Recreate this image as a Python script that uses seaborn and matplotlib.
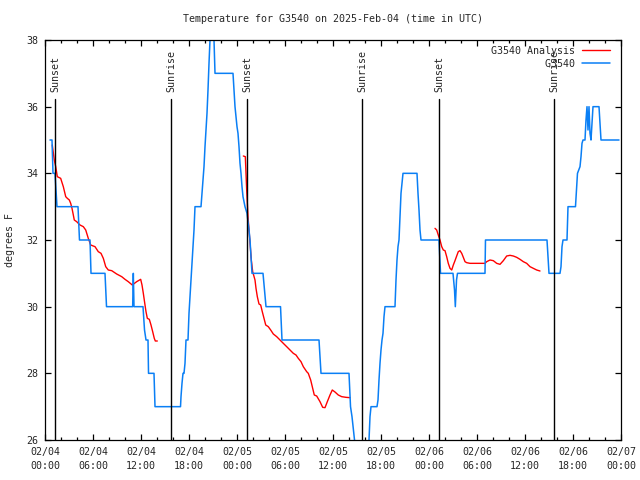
import pandas as pd
import seaborn as sns
import matplotlib.pyplot as plt
from matplotlib.lines import Line2D

START = pd.Timestamp('2025-02-04 00:00')

# G3540 observations (hours after start, deg F)
obs_hours = [0.625, 0.875, 1.0, 1.25, 1.375, 1.5, 4.125, 4.31, 5.625, 5.75, 7.5, 7.69,
             10.96, 11.04, 11.125, 12.25, 12.44, 12.625, 12.875, 12.94, 13.625, 13.75,
             16.94, 17.0, 17.125, 17.25, 17.375, 17.5, 17.625, 17.875, 18.0, 18.125,
             18.25, 18.375, 18.5, 18.625, 18.75, 19.5, 19.625, 19.75, 19.875, 20.0,
             20.125, 20.25, 20.375, 20.5, 20.625, 20.875, 21.125, 21.25, 23.5, 23.625,
             23.75, 23.875, 24.0, 24.125, 24.25, 24.375, 24.5, 24.625, 24.75, 25.0,
             25.25, 25.5, 25.625, 25.875, 27.25, 27.625, 29.44, 29.625, 34.25, 34.5,
             38.0, 38.19, 38.375, 38.69, 39.625, 40.5, 40.625, 40.75, 41.5, 41.625,
             41.75, 41.875, 42.0, 42.125, 42.25, 42.375, 42.5, 43.75, 43.875, 44.0,
             44.125, 44.25, 44.375, 44.5, 44.625, 44.75, 46.5, 46.625, 46.75, 46.875,
             47.0, 49.25, 49.44, 51.0, 51.19, 51.29, 51.44, 51.56, 55.0, 55.06, 62.75,
             63.0, 64.375, 64.5, 64.625, 64.75, 65.25, 65.375, 66.31, 66.44, 66.56,
             66.875, 67.0, 67.125, 67.25, 67.5, 67.625, 67.75, 67.875, 68.0, 68.125,
             68.25, 68.375, 68.5, 69.25, 69.5, 71.75]
obs_temps = [35, 35, 34, 34, 33.5, 33, 33, 32, 32, 31, 31, 30,
             30, 31, 30, 30, 29.3, 29, 29, 28, 28, 27,
             27, 27.3, 27.7, 28, 28, 28.3, 29, 29, 29.8, 30.3,
             30.8, 31.3, 31.8, 32.3, 33, 33, 33.4, 33.8, 34.2, 34.8,
             35.3, 35.8, 36.5, 37.3, 38, 38.8, 38, 37, 37, 36.5,
             36, 35.7, 35.4, 35.2, 34.8, 34.3, 34, 33.6, 33.3, 33,
             32.8, 32.3, 32, 31, 31, 30, 30, 29, 29, 28,
             28, 27, 26.7, 26, 25.3, 26, 26.7, 27, 27, 27.2,
             27.8, 28.3, 28.7, 29, 29.2, 29.7, 30, 30, 30.8, 31.4,
             31.8, 32, 32.7, 33.4, 33.7, 34, 34, 33.4, 32.9, 32.3,
             32, 32, 31, 31, 30.5, 30, 30.8, 31, 31, 32, 32,
             31, 31, 31.2, 31.8, 32, 32, 33, 33, 33.5, 34,
             34.2, 34.5, 34.9, 35, 35, 35.6, 36, 35.3, 36, 35.2,
             35, 35.5, 36, 36, 35, 35]

# G3540 Analysis, three separate runs
ana1_hours = [0.91, 1.16, 1.34, 1.54, 1.96, 2.09, 2.29, 2.59, 2.79, 3.04, 3.21, 3.375,
              3.54, 3.66, 3.96, 4.375, 4.79, 5.09, 5.41, 5.71, 6.25, 6.66, 7.0, 7.29,
              7.59, 7.91, 8.34, 8.96, 9.59, 10.0, 10.41, 10.91, 11.46, 11.96, 12.125,
              12.29, 12.5, 12.625, 12.79, 13.04, 13.25, 13.46, 13.66, 13.79, 14.04]
ana1_temps = [34.85, 34.4, 34.2, 33.9, 33.85, 33.75, 33.6, 33.3, 33.25, 33.2, 33.1, 32.95,
              32.75, 32.6, 32.55, 32.45, 32.4, 32.3, 32.05, 31.85, 31.8, 31.65, 31.6, 31.45,
              31.2, 31.1, 31.08, 30.98, 30.9, 30.82, 30.75, 30.65, 30.75, 30.82, 30.65,
              30.4, 30.05, 29.85, 29.65, 29.62, 29.45, 29.25, 29.05, 28.97, 28.97]
ana2_hours = [24.79, 25.04, 25.21, 25.375, 25.79, 25.96, 26.25, 26.375, 26.54, 26.75, 26.96,
              27.16, 27.375, 27.59, 27.91, 28.21, 28.54, 28.96, 29.375, 29.79, 30.21,
              30.625, 31.04, 31.375, 31.66, 32.0, 32.29, 32.71, 32.91, 33.21, 33.46,
              33.66, 33.96, 34.375, 34.71, 35.0, 35.29, 35.625, 35.91, 36.25, 36.66,
              37.09, 37.625, 38.125]
ana2_temps = [34.52, 34.5, 33.5, 32.7, 31.4, 31.05, 30.8, 30.55, 30.3, 30.08, 30.05,
              29.85, 29.65, 29.45, 29.4, 29.3, 29.18, 29.1, 29.0, 28.9, 28.8,
              28.7, 28.6, 28.55, 28.45, 28.35, 28.2, 28.05, 28.0, 27.8, 27.55,
              27.35, 27.32, 27.15, 26.98, 26.97, 27.15, 27.35, 27.5, 27.44, 27.35,
              27.3, 27.28, 27.27]
ana3_hours = [48.75, 48.96, 49.16, 49.375, 49.59, 49.79, 50.0, 50.21, 50.41, 50.625, 50.84,
              51.04, 51.25, 51.46, 51.66, 51.875, 52.09, 52.29, 52.5, 52.71, 53.125, 55.0,
              55.21, 55.625, 56.04, 56.46, 56.875, 57.29, 57.71, 58.125, 58.54, 58.96,
              59.375, 59.79, 60.21, 60.625, 61.04, 61.46, 61.875]
ana3_temps = [32.35, 32.3, 32.15, 32.0, 31.8, 31.7, 31.68, 31.5, 31.3, 31.15, 31.1,
              31.25, 31.38, 31.52, 31.65, 31.68, 31.6, 31.48, 31.35, 31.32, 31.3, 31.3,
              31.35, 31.4, 31.38, 31.3, 31.27, 31.38, 31.52, 31.54, 31.52, 31.48,
              31.42, 31.35, 31.3, 31.2, 31.15, 31.1, 31.07]

# sunrise / sunset (hours after start)
sun_hours = [1.25, 15.75, 25.25, 39.66, 49.31, 63.66]
sun_labels = ['Sunset', 'Sunrise', 'Sunset', 'Sunrise', 'Sunset', 'Sunrise']

tick_times = pd.date_range(START, periods=13, freq='6h')
tick_labels = [t.strftime('%m/%d\n%H:%M') for t in tick_times]
y_ticks = [26, 28, 30, 32, 34, 36, 38]

BLUE = '#0a7ff5'
RED = '#ff0000'


def to_time(hours):
    return START + pd.to_timedelta(hours, unit='h')


obs = pd.DataFrame({'time': to_time(obs_hours), 'temp': obs_temps})
ana = pd.concat([
    pd.DataFrame({'time': to_time(h), 'temp': t, 'run': i})
    for i, (h, t) in enumerate([(ana1_hours, ana1_temps),
                                (ana2_hours, ana2_temps),
                                (ana3_hours, ana3_temps)])
])

sns.set_style('ticks')
plt.rcParams['font.family'] = ['DejaVu Sans Mono', 'DejaVu Sans']
plt.rcParams['font.size'] = 7.2

fig = plt.figure(figsize=(6.4, 4.8), dpi=100)
ax = fig.add_axes([45 / 640, 40 / 480, 576 / 640, 400 / 480])

sns.lineplot(data=ana, x='time', y='temp', units='run', estimator=None, sort=False,
             color=RED, linewidth=1.0, ax=ax)
sns.lineplot(data=obs, x='time', y='temp', estimator=None, sort=False,
             color=BLUE, linewidth=1.1, ax=ax)

for h, lab in zip(sun_hours, sun_labels):
    t = to_time(h)
    ax.axvline(t, ymin=0, ymax=0.8525, color='black', linewidth=1.0)
    ax.text(t, 0.87, lab, transform=ax.get_xaxis_transform(), rotation=90,
            ha='center', va='bottom', fontsize=7.2)

ax.set_xlim(tick_times[0], tick_times[-1])
ax.set_ylim(26, 38)
ax.set_xticks(tick_times)
ax.set_xticklabels(tick_labels, linespacing=1.45)
ax.set_xticks(pd.date_range(START, periods=37, freq='2h'), minor=True)
ax.set_yticks(y_ticks)
ax.set_yticklabels([str(v) for v in y_ticks])
ax.tick_params(which='both', direction='in', top=True, right=True, labelsize=7.2,
               color='black', width=0.9)
ax.tick_params(which='major', length=4, pad=5)
ax.tick_params(which='minor', length=2.5)
for s in ax.spines.values():
    s.set_linewidth(0.9)
    s.set_color('black')
ax.set_xlabel('')
ax.set_ylabel('')

ax.text(0.5, (440 - 19) / 400, 'Temperature for G3540 on 2025-Feb-04 (time in UTC)',
        transform=ax.transAxes, ha='center', va='center', fontsize=7.2)
fig.text(10 / 640, 0.5, 'degrees F', rotation=90, ha='center', va='center', fontsize=7.2)

handles = [Line2D([], [], color=RED, linewidth=1.0),
           Line2D([], [], color=BLUE, linewidth=1.1)]
ax.legend(handles, ['G3540 Analysis', '         G3540'], loc='upper right',
          bbox_to_anchor=((610 - 45) / 576, (440 - 46) / 400), frameon=False,
          markerfirst=False, handlelength=2.8, handletextpad=0.7, labelspacing=0.3,
          borderaxespad=0, borderpad=0, fontsize=7.2)

fig.savefig('out.png', dpi=100)
